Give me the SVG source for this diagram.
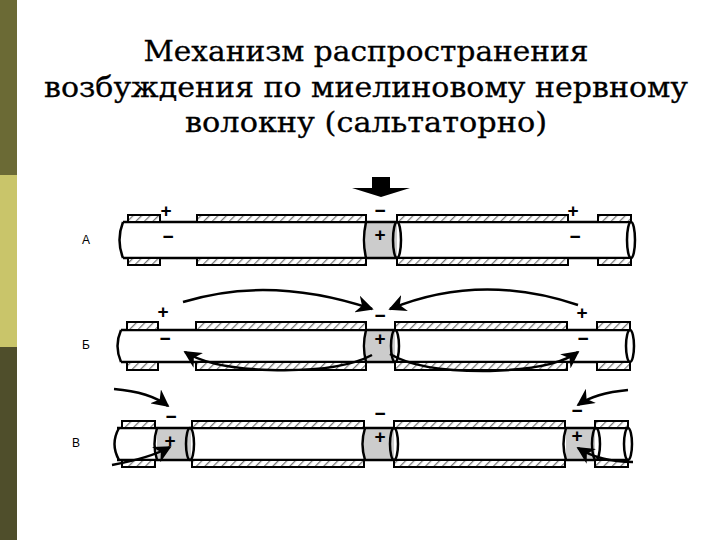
<svg xmlns="http://www.w3.org/2000/svg" width="720" height="540" viewBox="0 0 720 540">
<defs>
<pattern id="h" width="6" height="6" patternUnits="userSpaceOnUse" patternTransform="rotate(45)"><rect width="6" height="6" fill="#fff"/><line x1="0" y1="0" x2="0" y2="6" stroke="#777" stroke-width="2.5"/></pattern>
<marker id="a" viewBox="0 0 10 10" refX="9" refY="5" markerWidth="7" markerHeight="7" orient="auto"><path d="M0,0 L10,5 L0,10 L3,5z" fill="#000"/></marker>
</defs>
<style>
.m{fill:url(#h);stroke:#000;stroke-width:2}
.ax{fill:#fff;stroke:#000;stroke-width:2.5}
.n{fill:#ccc;stroke:none}
.e{fill:none;stroke:#000;stroke-width:2.5}
.s{font-family:"Liberation Sans",Arial,sans-serif;font-size:19px;font-weight:bold;text-anchor:middle}
.l{font-family:"Liberation Sans",Arial,sans-serif;font-size:12px;text-anchor:middle}
.c{fill:none;stroke:#000;stroke-width:2.5;marker-end:url(#a)}
</style>
<rect width="720" height="540" fill="#fff"/>
<rect x="0" y="0" width="17" height="175" fill="#6b6a35"/>
<rect x="0" y="175" width="17" height="172" fill="#c9c56a"/>
<rect x="0" y="347" width="17" height="193" fill="#4f4e2b"/>
<g id="title" font-family="'DejaVu Serif', 'Liberation Serif', serif" font-size="27" text-anchor="middle" stroke="#000" stroke-width="0.3">
<text x="366" y="61" textLength="445" lengthAdjust="spacingAndGlyphs">Механизм распространения</text>
<text x="366" y="97" textLength="644" lengthAdjust="spacingAndGlyphs">возбуждения по миелиновому нервному</text>
<text x="366" y="132" textLength="362" lengthAdjust="spacingAndGlyphs">волокну (сальтаторно)</text>
</g>
<g id="stimulus"><path d="M372,177 H390 V188 H410 L381,197 L352,188 H372z" fill="#000"/></g>
<g id="rowA">
<text class="l" x="86" y="244">А</text>
<path d="M123,222 H631 V258 H123z" fill="#fff"/>
<rect class="n" x="366" y="223" width="31" height="34"/>
<path class="ax" d="M123,222 H631 M123,258 H631" fill="none"/>
<rect class="m" x="128" y="215" width="32" height="7"/><rect class="m" x="128" y="258" width="32" height="7"/>
<rect class="m" x="197" y="215" width="169" height="7"/><rect class="m" x="197" y="258" width="169" height="7"/>
<rect class="m" x="397" y="215" width="171" height="7"/><rect class="m" x="397" y="258" width="171" height="7"/>
<rect class="m" x="598" y="215" width="33" height="7"/><rect class="m" x="598" y="258" width="33" height="7"/>
<path class="e" d="M123,222 Q116,240 123,258"/>
<path class="e" d="M366,222 Q362,240 366,258"/>
<ellipse class="e" cx="397" cy="240" rx="4" ry="18"/>
<ellipse class="e" cx="631" cy="240" rx="4" ry="18"/>
<text class="s" x="166" y="217">+</text><text class="s" x="168" y="243">−</text>
<text class="s" x="380" y="217">−</text><text class="s" x="380" y="241">+</text>
<text class="s" x="573" y="217">+</text><text class="s" x="575" y="243">−</text>
</g>
<g id="rowB">
<text class="l" x="86" y="349">Б</text>
<path d="M121,330 H630 V362 H121z" fill="#fff"/>
<rect class="n" x="366" y="331" width="29" height="30"/>
<path class="ax" d="M121,330 H630 M121,362 H630"/>
<rect class="m" x="127" y="322" width="31" height="8"/><rect class="m" x="127" y="362" width="31" height="8"/>
<rect class="m" x="196" y="322" width="170" height="8"/><rect class="m" x="196" y="362" width="170" height="8"/>
<rect class="m" x="395" y="322" width="172" height="8"/><rect class="m" x="395" y="362" width="172" height="8"/>
<rect class="m" x="597" y="322" width="33" height="8"/><rect class="m" x="597" y="362" width="33" height="8"/>
<path class="e" d="M121,330 Q114,346 121,362"/>
<path class="e" d="M366,330 Q362,346 366,362"/>
<ellipse class="e" cx="395" cy="346" rx="4" ry="16"/>
<ellipse class="e" cx="630" cy="346" rx="4" ry="16"/>
<text class="s" x="163" y="318">+</text><text class="s" x="165" y="345">−</text>
<text class="s" x="380" y="322">−</text><text class="s" x="380" y="345">+</text>
<text class="s" x="582" y="319">+</text><text class="s" x="583" y="345">−</text>
</g>
<g id="rowC">
<text class="l" x="76" y="447">В</text>
<path d="M117,428 H628 V460 H117z" fill="#fff"/>
<rect class="n" x="157" y="429" width="34" height="30"/>
<rect class="n" x="364" y="429" width="30" height="30"/>
<rect class="n" x="566" y="429" width="29" height="30"/>
<path class="ax" d="M117,428 H628 M117,460 H628"/>
<rect class="m" x="122" y="421" width="33" height="7"/><rect class="m" x="122" y="460" width="33" height="7"/>
<rect class="m" x="192" y="421" width="172" height="7"/><rect class="m" x="192" y="460" width="172" height="7"/>
<rect class="m" x="394" y="421" width="171" height="7"/><rect class="m" x="394" y="460" width="171" height="7"/>
<rect class="m" x="595" y="421" width="33" height="7"/><rect class="m" x="595" y="460" width="33" height="7"/>
<path class="e" d="M119,428 Q110,444 119,460"/>
<path class="e" d="M157,428 Q152,444 157,460"/>
<ellipse class="e" cx="190" cy="444" rx="4" ry="16"/>
<path class="e" d="M365,428 Q360,444 365,460"/>
<ellipse class="e" cx="394" cy="444" rx="4" ry="16"/>
<path class="e" d="M566,428 Q561,444 566,460"/>
<ellipse class="e" cx="596" cy="444" rx="4" ry="16"/>
<ellipse class="e" cx="628" cy="444" rx="4" ry="16"/>
<text class="s" x="171" y="423">−</text><text class="s" x="170" y="447">+</text>
<text class="s" x="380" y="420">−</text><text class="s" x="380" y="443">+</text>
<text class="s" x="577" y="417">−</text><text class="s" x="577" y="442">+</text>
</g>
<g id="connectors">
<path class="c" d="M183,302 Q270,275 372,309"/>
<path class="c" d="M578,305 Q480,272 390,309"/>
<path class="c" d="M372,355 Q340,372 270,370 Q210,368 185,352"/>
<path class="c" d="M390,354 Q420,372 490,371 Q555,369 578,352"/>
<path class="c" d="M114,389 Q150,392 168,406"/>
<path class="c" d="M112,465 Q150,458 170,447"/>
<path class="c" d="M628,390 Q595,393 578,405"/>
<path class="c" d="M633,462 Q600,462 578,448"/>
</g>
</svg>
